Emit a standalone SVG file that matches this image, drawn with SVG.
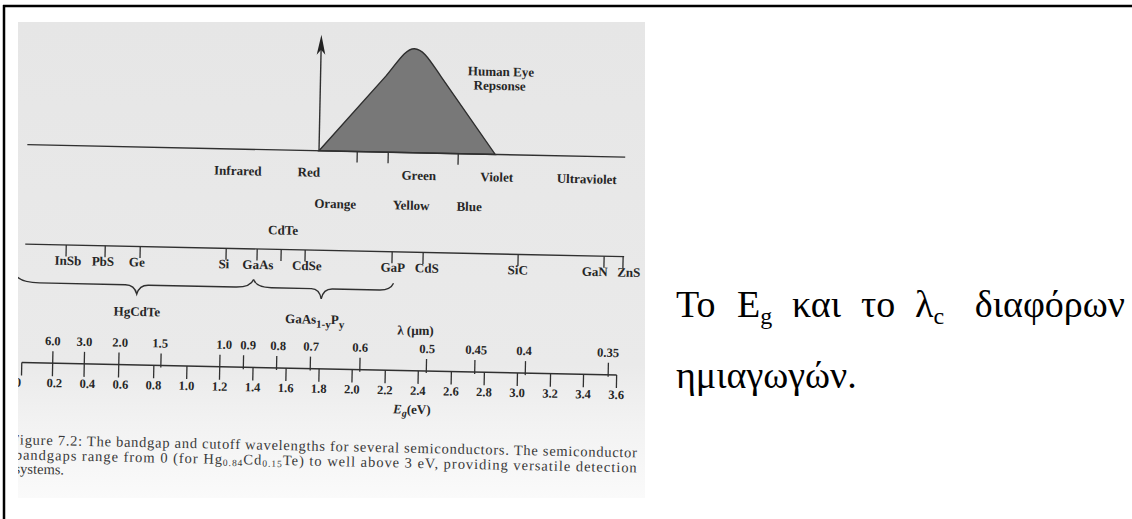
<svg xmlns="http://www.w3.org/2000/svg" width="1132" height="519" viewBox="0 0 1132 519">
  <defs>
    <style>
      .lb { font-family: "Liberation Serif", serif; font-weight: bold; font-size: 13px; fill: #262626; text-anchor: middle; }
      .nm { font-family: "Liberation Serif", serif; font-weight: bold; font-size: 12.5px; fill: #262626; text-anchor: middle; }
      .ln { stroke: #303030; stroke-width: 1.4; fill: none; }
      .tk { stroke: #303030; stroke-width: 1.3; }
      .cap { font-family: "Liberation Serif", serif; font-size: 14.5px; fill: #3a3a3a; }
      .gr { font-family: "Liberation Serif", "DejaVu Serif", serif; font-size: 38px; fill: #000; }
    </style>
    <linearGradient id="paper" x1="0" y1="0" x2="0" y2="1">
      <stop offset="0" stop-color="#e6e6e6"/>
      <stop offset="0.72" stop-color="#eaeaea"/>
      <stop offset="0.84" stop-color="#f2f2f2"/>
      <stop offset="1" stop-color="#fafafa"/>
    </linearGradient>
    <clipPath id="scanclip">
      <rect x="18" y="22" width="627" height="476"/>
    </clipPath>
  </defs>

  <rect x="0" y="0" width="1132" height="519" fill="#fff"/>

  <g id="frame">
    <line x1="3" y1="6" x2="1132" y2="6" stroke="#000" stroke-width="2.5"/>
    <line x1="4" y1="5" x2="4" y2="519" stroke="#000" stroke-width="2.5"/>
  </g>

  <g id="scan" clip-path="url(#scanclip)">
    <rect x="18" y="22" width="627" height="476" fill="url(#paper)"/>
    <g transform="rotate(1.2 330 260)">
      <g id="eye-response">
        <path d="M316.7,151 L382,75 C394,60 401,47 410,47 C419,47 426,59 437,74 L493,151 Z" fill="#787878" stroke="#2e2e2e" stroke-width="1.4"/>
        <text class="lb" x="497" y="72.5" font-size="12">Human Eye</text>
        <text class="lb" x="496" y="86.5" font-size="12">Repsonse</text>
      </g>

      <g id="connectors">
        <line class="ln" x1="316.7" y1="151" x2="316.7" y2="48"/>
        <path d="M316.7,35 L321,55 L316.7,50 L312.4,55 Z" fill="#222"/>
        <line class="ln" x1="25" y1="151" x2="623" y2="151"/>
        <line class="tk" x1="355" y1="151" x2="355" y2="162"/>
        <line class="tk" x1="386" y1="151" x2="386" y2="162"/>
        <line class="tk" x1="456" y1="151" x2="456" y2="162"/>

        <line class="ln" x1="25" y1="250.5" x2="624" y2="250.5"/>
        <g class="tk">
          <line x1="66" y1="250.5" x2="66" y2="262"/>
          <line x1="105" y1="250.5" x2="105" y2="262"/>
          <line x1="140" y1="250.5" x2="140" y2="262"/>
          <line x1="226" y1="250.5" x2="226" y2="262"/>
          <line x1="257" y1="250.5" x2="257" y2="262"/>
          <line x1="281" y1="250.5" x2="281" y2="262"/>
          <line x1="305" y1="250.5" x2="305" y2="262"/>
          <line x1="392" y1="250.5" x2="392" y2="262"/>
          <line x1="423" y1="250.5" x2="423" y2="262"/>
          <line x1="518" y1="250.5" x2="518" y2="262"/>
          <line x1="604" y1="250.5" x2="604" y2="262"/>
          <line x1="623" y1="250.5" x2="623" y2="262"/>
        </g>

        <path class="ln" d="M15,280 Q19,289 40,289 L126,289 Q135,289 137.5,298 Q140,289 149,289 L236,289 Q251,289 254,281"/>
        <path class="ln" d="M254,281 Q257,289 272,289 L312,289 Q320,289 322,299 Q324,289 333,289 L380,289 Q391,289 394,282"/>

        <line class="ln" x1="24" y1="369" x2="619" y2="369"/>
        <g class="tk">
          <line x1="24" y1="369" x2="24" y2="382"/>
          <line x1="54.9" y1="357" x2="54.9" y2="382"/>
          <line x1="86.5" y1="357" x2="86.5" y2="382"/>
          <line x1="121" y1="357" x2="121" y2="382"/>
          <line x1="163.1" y1="357" x2="163.1" y2="371"/>
          <line x1="222" y1="357" x2="222" y2="382"/>
          <line x1="245.6" y1="357" x2="245.6" y2="371"/>
          <line x1="278.8" y1="357" x2="278.8" y2="371"/>
          <line x1="312.5" y1="357" x2="312.5" y2="371"/>
          <line x1="362.1" y1="357" x2="362.1" y2="371"/>
          <line x1="428.6" y1="357" x2="428.6" y2="371"/>
          <line x1="477" y1="357" x2="477" y2="371"/>
          <line x1="527.6" y1="357" x2="527.6" y2="371"/>
          <line x1="610.5" y1="357" x2="610.5" y2="371"/>
          <line x1="156.1" y1="369" x2="156.1" y2="382"/>
          <line x1="189.2" y1="369" x2="189.2" y2="382"/>
          <line x1="255.3" y1="369" x2="255.3" y2="382"/>
          <line x1="288.4" y1="369" x2="288.4" y2="382"/>
          <line x1="321.4" y1="369" x2="321.4" y2="382"/>
          <line x1="354.5" y1="369" x2="354.5" y2="382"/>
          <line x1="387.6" y1="369" x2="387.6" y2="382"/>
          <line x1="420.6" y1="369" x2="420.6" y2="382"/>
          <line x1="453.7" y1="369" x2="453.7" y2="382"/>
          <line x1="486.7" y1="369" x2="486.7" y2="382"/>
          <line x1="519.8" y1="369" x2="519.8" y2="382"/>
          <line x1="552.9" y1="369" x2="552.9" y2="382"/>
          <line x1="585.9" y1="369" x2="585.9" y2="382"/>
          <line x1="619" y1="369" x2="619" y2="382"/>
        </g>
      </g>

      <g id="spectrum-labels">
        <text class="lb" x="236" y="177">Infrared</text>
        <text class="lb" x="307" y="177">Red</text>
        <text class="lb" x="417" y="178">Green</text>
        <text class="lb" x="495" y="178">Violet</text>
        <text class="lb" x="585" y="178">Ultraviolet</text>
        <text class="lb" x="334" y="208">Orange</text>
        <text class="lb" x="410" y="208">Yellow</text>
        <text class="lb" x="468" y="208">Blue</text>
      </g>

      <g id="semiconductors">
        <text class="lb" x="282.5" y="235.5">CdTe</text>
        <text class="lb" x="68" y="270.5">InSb</text>
        <text class="lb" x="103" y="270.5">PbS</text>
        <text class="lb" x="137" y="270.5">Ge</text>
        <text class="lb" x="224" y="270.5">Si</text>
        <text class="lb" x="258" y="270.5">GaAs</text>
        <text class="lb" x="307" y="270.5">CdSe</text>
        <text class="lb" x="393" y="270.5">GaP</text>
        <text class="lb" x="427" y="270.5">CdS</text>
        <text class="lb" x="518" y="270.5">SiC</text>
        <text class="lb" x="595" y="270.5">GaN</text>
        <text class="lb" x="629" y="270.5">ZnS</text>
        <text class="lb" x="138" y="320">HgCdTe</text>
        <text class="lb" x="316" y="324">GaAs<tspan font-size="11" dy="4">1-y</tspan><tspan dy="-4">P</tspan><tspan font-size="11" dy="4">y</tspan></text>
      </g>

      <g id="wavelength-scale">
        <text class="lb" x="417" y="333" font-weight="normal">λ (μm)</text>
        <text class="nm" x="54.6" y="351">6.0</text>
        <text class="nm" x="86.2" y="351">3.0</text>
        <text class="nm" x="122" y="351">2.0</text>
        <text class="nm" x="162" y="351">1.5</text>
        <text class="nm" x="226" y="351">1.0</text>
        <text class="nm" x="250" y="351">0.9</text>
        <text class="nm" x="280" y="351">0.8</text>
        <text class="nm" x="313" y="351">0.7</text>
        <text class="nm" x="362" y="351">0.6</text>
        <text class="nm" x="429" y="351">0.5</text>
        <text class="nm" x="478" y="351">0.45</text>
        <text class="nm" x="526" y="351">0.4</text>
        <text class="nm" x="610" y="351">0.35</text>
      </g>

      <g id="energy-scale">
        <text class="nm" x="16" y="393">0.0</text>
        <text class="nm" x="57" y="393">0.2</text>
        <text class="nm" x="90" y="393">0.4</text>
        <text class="nm" x="123.1" y="393">0.6</text>
        <text class="nm" x="156.1" y="393">0.8</text>
        <text class="nm" x="189.2" y="393">1.0</text>
        <text class="nm" x="222.3" y="393">1.2</text>
        <text class="nm" x="255.3" y="393">1.4</text>
        <text class="nm" x="288.4" y="393">1.6</text>
        <text class="nm" x="321.4" y="393">1.8</text>
        <text class="nm" x="354.5" y="393">2.0</text>
        <text class="nm" x="387.6" y="393">2.2</text>
        <text class="nm" x="420.6" y="393">2.4</text>
        <text class="nm" x="453.7" y="393">2.6</text>
        <text class="nm" x="486.7" y="393">2.8</text>
        <text class="nm" x="519.8" y="393">3.0</text>
        <text class="nm" x="552.9" y="393">3.2</text>
        <text class="nm" x="585.9" y="393">3.4</text>
        <text class="nm" x="619" y="393">3.6</text>
        <text class="lb" x="415" y="412" font-weight="normal" font-size="14"><tspan font-style="italic">E</tspan><tspan font-style="italic" font-size="10" dy="3">g</tspan><tspan dy="-3">(eV)</tspan></text>
      </g>

      <g id="caption">
        <text class="cap" x="15" y="451" textLength="626" lengthAdjust="spacing">Figure 7.2: The bandgap and cutoff wavelengths for several semiconductors. The semiconductor</text>
        <text class="cap" x="19" y="466" textLength="622" lengthAdjust="spacing">bandgaps range from 0 (for Hg<tspan font-size="9.5" dy="2">0.84</tspan><tspan dy="-2">Cd</tspan><tspan font-size="9.5" dy="2">0.15</tspan><tspan dy="-2">Te) to well above 3 eV, providing versatile detection</tspan></text>
        <text class="cap" x="19" y="480">systems.</text>
      </g>
    </g>
  </g>

  <g id="side-note">
    <text class="gr" x="676" y="317">Το</text>
    <text class="gr" x="737" y="317">E<tspan font-size="24" dy="7">g</tspan></text>
    <text class="gr" x="792" y="317">και</text>
    <text class="gr" x="861" y="317">το</text>
    <text class="gr" x="915" y="317">λ<tspan font-size="24" dy="7">c</tspan></text>
    <text class="gr" x="1125" y="317" text-anchor="end" font-size="40">διαφόρων</text>
    <text class="gr" x="676" y="388">ημιαγωγών.</text>
  </g>
</svg>
